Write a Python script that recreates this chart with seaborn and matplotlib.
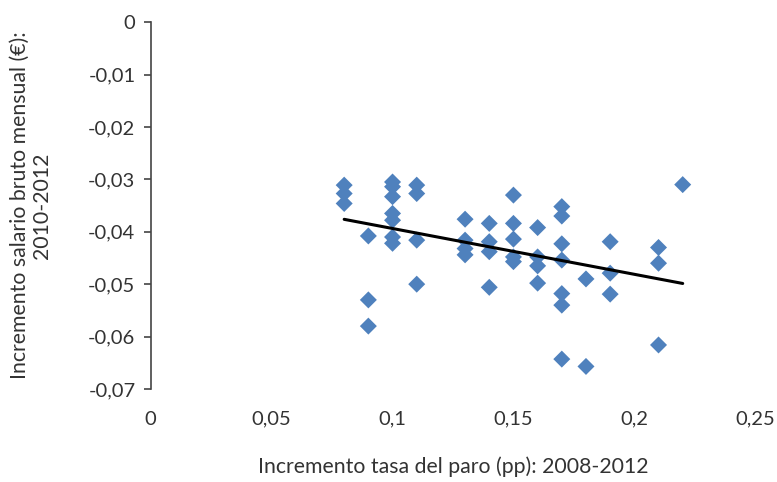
import matplotlib
matplotlib.use("Agg")
import matplotlib.pyplot as plt
import pandas as pd
import seaborn as sns

# datos
paro = [0.08, 0.08, 0.08,
        0.09, 0.09, 0.09,
        0.10, 0.10, 0.10, 0.10, 0.10, 0.10, 0.10,
        0.11, 0.11, 0.11, 0.11,
        0.13, 0.13, 0.13, 0.13,
        0.14, 0.14, 0.14, 0.14,
        0.15, 0.15, 0.15, 0.15, 0.15,
        0.16, 0.16, 0.16, 0.16,
        0.17, 0.17, 0.17, 0.17, 0.17, 0.17, 0.17,
        0.18, 0.18,
        0.19, 0.19, 0.19,
        0.21, 0.21, 0.21,
        0.22]
salario = [-0.0311, -0.0327, -0.0346,
           -0.0408, -0.0530, -0.0580,
           -0.0305, -0.0314, -0.0333, -0.0365, -0.0378, -0.0410, -0.0422,
           -0.0311, -0.0327, -0.0416, -0.0500,
           -0.0376, -0.0416, -0.0432, -0.0444,
           -0.0384, -0.0419, -0.0438, -0.0506,
           -0.0330, -0.0384, -0.0414, -0.0448, -0.0457,
           -0.0392, -0.0448, -0.0465, -0.0498,
           -0.0352, -0.0370, -0.0423, -0.0454, -0.0518, -0.0540, -0.0643,
           -0.0490, -0.0657,
           -0.0419, -0.0479, -0.0519,
           -0.0430, -0.0460, -0.0616,
           -0.0310]

x_ticks = [0, 0.05, 0.1, 0.15, 0.2, 0.25]
x_labels = ["0", "0,05", "0,1", "0,15", "0,2", "0,25"]
y_ticks = [0, -0.01, -0.02, -0.03, -0.04, -0.05, -0.06, -0.07]
y_labels = ["0", "-0,01", "-0,02", "-0,03", "-0,04", "-0,05", "-0,06", "-0,07"]

df = pd.DataFrame({"paro": paro, "salario": salario})

sns.set_style("white")
plt.rcParams["font.family"] = ["Lato", "DejaVu Sans"]
txt = dict(fontsize=14.5, color="#333333")
lbl = dict(fontsize=15.3, color="#333333")

fig = plt.figure(figsize=(7.77, 4.82), dpi=100)
ax = fig.add_axes([0.194, 0.193, 0.778, 0.761])

sns.scatterplot(data=df, x="paro", y="salario", marker="D", s=75,
                color="#4F81BD", edgecolor="none", ax=ax, zorder=2)
sns.regplot(data=df, x="paro", y="salario", scatter=False, ci=None,
            truncate=True, color="black", line_kws={"lw": 2.2, "zorder": 3},
            ax=ax)

ax.set_xlim(0, 0.25)
ax.set_ylim(-0.07, 0)
ax.set_xticks(x_ticks)
ax.set_xticklabels(x_labels, **txt)
ax.set_yticks(y_ticks)
ax.set_yticklabels(y_labels, **txt)

for s in ["top", "right", "bottom"]:
    ax.spines[s].set_visible(False)
ax.spines["left"].set_color("#444444")
ax.spines["left"].set_linewidth(1.2)
ax.tick_params(axis="y", left=True, direction="out", length=5, width=1.2,
               color="#444444", pad=6)
ax.tick_params(axis="x", bottom=False, pad=12)

ax.set_xlabel("Incremento tasa del paro (pp): 2008-2012", **lbl)
ax.set_ylabel("Incremento salario bruto mensual (€):\n2010-2012",
              linespacing=1.15, multialignment="center", **lbl)
ax.xaxis.set_label_coords(0.5, -0.185)
ax.yaxis.set_label_coords(-0.163, 0.5)
ax.grid(False)

fig.savefig("out.png", dpi=100)
